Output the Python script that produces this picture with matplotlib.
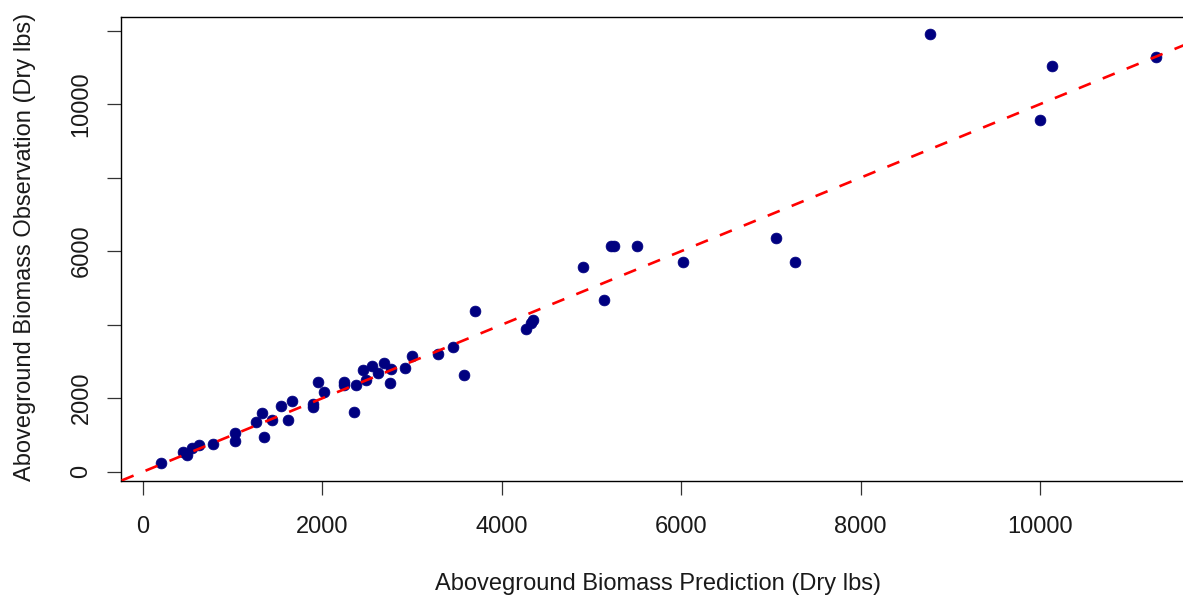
import numpy as np
import matplotlib
matplotlib.use("Agg")
import matplotlib.pyplot as plt

plt.rcParams['font.family'] = ['Liberation Sans', 'DejaVu Sans']

# Predicted vs observed aboveground biomass (dry lbs)
predicted = [198, 446, 491, 550, 625, 785, 1021, 1021, 1256, 1331, 1347, 1436,
             1535, 1618, 1663, 1890, 1895, 1950, 2017, 2235, 2235, 2355, 2374,
             2452, 2485, 2556, 2623, 2686, 2749, 2764, 2919, 2999, 3285, 3452,
             3583, 3700, 4269, 4327, 4342, 4903, 5136, 5212, 5246, 5506, 6019,
             7061, 7273, 8772, 10000, 10131, 11295]
observed = [228, 549, 453, 646, 714, 742, 1063, 843, 1365, 1585, 948, 1401,
            1786, 1420, 1923, 1750, 1840, 2437, 2162, 2437, 2349, 1629, 2363,
            2775, 2486, 2865, 2684, 2948, 2409, 2794, 2816, 3159, 3214, 3393,
            2637, 4368, 3893, 4052, 4135, 5569, 4662, 6146, 6146, 6146, 5706,
            6346, 5706, 11904, 9569, 11044, 11291]

x_ticks = [0, 2000, 4000, 6000, 8000, 10000]
y_ticks = [0, 2000, 4000, 6000, 8000, 10000, 12000]
y_tick_labels = ['0', '2000', '', '6000', '', '10000', '']

W, H = 1183, 595
fig = plt.figure(figsize=(W / 100, H / 100), dpi=100)

# plot box in pixel terms; the right edge runs past the figure
left, right, top, bottom = 121, 1196, 17, 480.5
ax = fig.add_axes([left / W, 1 - bottom / H, (right - left) / W, (bottom - top) / H])

def r_limits(v):
    lo, hi = min(v), max(v)
    pad = 0.04 * (hi - lo)
    return lo - pad, hi + pad

ax.set_xlim(*r_limits(predicted))
ax.set_ylim(*r_limits(observed))

# 1:1 reference line
ax.axline((0, 0), slope=1, color='#FF0000', lw=1.9,
          linestyle=(0, (4.9, 4.9)), zorder=3)
ax.plot(predicted, observed, 'o', color='#000080', ms=7.8, mec='#000080',
        mew=0.5, zorder=2, clip_on=False)

for s in ax.spines.values():
    s.set_linewidth(1.0)
    s.set_color('black')

FS = 17
ax.set_xticks(x_ticks)
ax.set_xticklabels([str(t) for t in x_ticks])
ax.set_yticks(y_ticks)
ax.set_yticklabels(y_tick_labels, rotation=90, va='center')
ax.tick_params(axis='both', length=10, width=0.9, color='#333333',
               labelsize=FS, labelcolor='#1a1a1a')
ax.tick_params(axis='x', pad=15.5)
ax.tick_params(axis='y', pad=10.5)

ax.set_xlabel('Aboveground Biomass Prediction (Dry lbs)', fontsize=FS,
              color='#1a1a1a')
ax.set_ylabel('Aboveground Biomass Observation (Dry lbs)', fontsize=FS,
              color='#1a1a1a')
ax.xaxis.set_label_coords((658 - left) / (right - left), -(573 - bottom) / (bottom - top))
ax.yaxis.set_label_coords(-(left - 36) / (right - left), (bottom - 247) / (bottom - top))

fig.savefig('out.png', dpi=100)
